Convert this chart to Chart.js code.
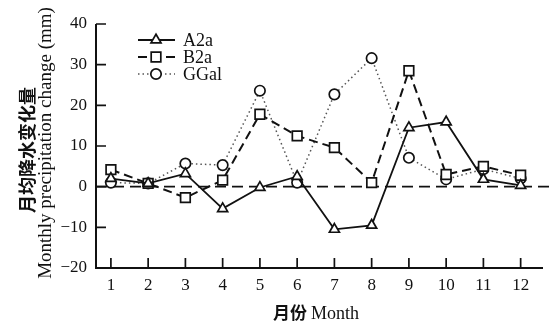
<!DOCTYPE html>
<html>
<head>
<meta charset="utf-8">
<script src="https://cdn.jsdelivr.net/npm/chart.js@4/dist/chart.umd.min.js"></script>
<style>
  html, body { margin: 0; padding: 0; background: #fff; }
  canvas { display: block; }
</style>
</head>
<body>
<canvas id="c" width="560" height="326"></canvas>
<script>
// Months and monthly precipitation change (mm) under each scenario
const months = [1, 2, 3, 4, 5, 6, 7, 8, 9, 10, 11, 12];
const a2a  = [2.0, 0.8, 3.2, -5.4, -0.2, 2.5, -10.5, -9.5, 14.5, 15.9, 1.8, 0.3];
const b2a  = [4.2, 0.8, -2.7, 1.6, 17.8, 12.5, 9.6, 1.0, 28.5, 3.0, 5.0, 2.8];
const ggal = [1.0, 0.8, 5.7, 5.3, 23.6, 1.0, 22.7, 31.6, 7.1, 1.8, 4.3, 2.0];
const yTicks = [-20, -10, 0, 10, 20, 30, 40];
const seriesNames = ['A2a', 'B2a', 'GGal'];

const INK = '#111';
const SERIF = '"Liberation Serif", "DejaVu Serif", serif';
const CJK = '"Noto Sans CJK SC", "Noto Sans CJK JP", sans-serif';

const toPoints = vals => months.map((m, i) => ({ x: m, y: vals[i] }));

const styles = [
  { dash: [], width: 1.8, color: INK, point: 'triangle', r: 5.8 },
  { dash: [9, 5], width: 2, color: INK, point: 'rect', r: 6.8 },
  { dash: [1.5, 3], width: 1.5, color: '#555', point: 'circle', r: 5.2 }
];

function marker(ctx, kind, x, y, r) {
  ctx.save();
  ctx.setLineDash([]);
  ctx.lineWidth = 1.7;
  ctx.strokeStyle = INK;
  ctx.fillStyle = '#fff';
  ctx.beginPath();
  if (kind === 'circle') {
    ctx.arc(x, y, r, 0, Math.PI * 2);
  } else if (kind === 'rect') {
    const s = r * Math.SQRT1_2;
    ctx.rect(x - s, y - s, 2 * s, 2 * s);
  } else {
    const w = r * Math.sqrt(3) / 2;
    ctx.moveTo(x, y - r);
    ctx.lineTo(x + w, y + r / 2);
    ctx.lineTo(x - w, y + r / 2);
    ctx.closePath();
  }
  ctx.fill();
  ctx.stroke();
  ctx.restore();
}

// Axes frame, inward ticks, dashed zero line, legend and axis titles
const decor = {
  id: 'decor',
  beforeDatasetsDraw(chart) {
    const { ctx, chartArea: a, scales: { x, y } } = chart;
    ctx.save();
    // zero reference line
    const y0 = y.getPixelForValue(0);
    ctx.strokeStyle = INK;
    ctx.lineWidth = 1.7;
    ctx.setLineDash([11, 6]);
    ctx.beginPath();
    ctx.moveTo(a.left, y0);
    ctx.lineTo(a.right + 10, y0);
    ctx.stroke();
    ctx.setLineDash([]);
    // axis lines
    ctx.lineWidth = 2;
    ctx.beginPath();
    ctx.moveTo(a.left, a.top);
    ctx.lineTo(a.left, a.bottom);
    ctx.lineTo(a.right, a.bottom);
    ctx.stroke();
    // inward tick marks
    ctx.lineWidth = 1.7;
    ctx.beginPath();
    yTicks.forEach(v => {
      const py = y.getPixelForValue(v);
      ctx.moveTo(a.left, py);
      ctx.lineTo(a.left + 10, py);
    });
    months.forEach(m => {
      const px = x.getPixelForValue(m);
      ctx.moveTo(px, a.bottom);
      ctx.lineTo(px, a.bottom - 10);
    });
    ctx.stroke();
    ctx.restore();
  },
  afterDraw(chart) {
    const { ctx } = chart;
    ctx.save();
    // legend
    const legendY = [40, 57, 74];
    seriesNames.forEach((name, i) => {
      const s = styles[i];
      const ly = legendY[i];
      ctx.strokeStyle = s.color;
      ctx.lineWidth = s.width;
      ctx.setLineDash(s.dash);
      ctx.beginPath();
      ctx.moveTo(138, ly);
      ctx.lineTo(175, ly);
      ctx.stroke();
      marker(ctx, s.point, 156, ly, s.r);
      ctx.fillStyle = INK;
      ctx.font = '18px ' + SERIF;
      ctx.textAlign = 'left';
      ctx.textBaseline = 'middle';
      ctx.fillText(name, 183, ly + 1);
    });
    // y-axis titles
    ctx.fillStyle = INK;
    ctx.save();
    ctx.translate(27, 150);
    ctx.rotate(-Math.PI / 2);
    ctx.textAlign = 'center';
    ctx.textBaseline = 'middle';
    ctx.font = 'bold 18px ' + CJK;
    ctx.fillText('月均降水变化量', 0, 0);
    ctx.restore();
    ctx.save();
    ctx.translate(46, 143);
    ctx.rotate(-Math.PI / 2);
    ctx.textAlign = 'center';
    ctx.textBaseline = 'middle';
    ctx.font = '19px ' + SERIF;
    ctx.fillText('Monthly precipitation change (mm)', 0, 0);
    ctx.restore();
    // x-axis title
    ctx.textBaseline = 'middle';
    ctx.textAlign = 'left';
    ctx.font = 'bold 17px ' + CJK;
    const cn = '月份 ';
    const cnW = ctx.measureText(cn).width;
    ctx.font = '18px ' + SERIF;
    const enW = ctx.measureText('Month').width;
    const startX = 316 - (cnW + enW) / 2;
    ctx.font = 'bold 17px ' + CJK;
    ctx.fillText(cn, startX, 313);
    ctx.font = '18px ' + SERIF;
    ctx.fillText('Month', startX + cnW, 314);
    ctx.restore();
  }
};

const datasets = [a2a, b2a, ggal].map((vals, i) => ({
  label: seriesNames[i],
  data: toPoints(vals),
  borderColor: styles[i].color,
  borderWidth: styles[i].width,
  borderDash: styles[i].dash,
  pointStyle: styles[i].point,
  pointRadius: styles[i].r,
  pointBorderWidth: 1.7,
  pointBorderColor: INK,
  pointBackgroundColor: '#fff',
  tension: 0,
  fill: false
}));

new Chart(document.getElementById('c'), {
  type: 'line',
  data: { datasets },
  plugins: [decor],
  options: {
    responsive: false,
    animation: false,
    devicePixelRatio: 1,
    layout: { padding: { top: 24, right: 17, left: 0, bottom: 0 } },
    plugins: { legend: { display: false }, tooltip: { enabled: false } },
    scales: {
      x: {
        type: 'linear',
        min: 0.6,
        max: 12.6,
        afterBuildTicks: s => { s.ticks = months.map(v => ({ value: v })); },
        afterFit: s => { s.height = 58; },
        grid: { display: false, drawTicks: false },
        border: { display: false },
        ticks: { color: INK, font: { family: SERIF, size: 17 }, padding: 7, autoSkip: false, maxRotation: 0 }
      },
      y: {
        min: -20,
        max: 40,
        afterBuildTicks: s => { s.ticks = yTicks.map(v => ({ value: v })); },
        afterFit: s => { s.width = 96; },
        grid: { display: false, drawTicks: false },
        border: { display: false },
        ticks: {
          color: INK,
          font: { family: SERIF, size: 17 },
          padding: 9,
          callback: v => (v < 0 ? '\u2212' + Math.abs(v) : String(v))
        }
      }
    }
  }
});
</script>
</body>
</html>
